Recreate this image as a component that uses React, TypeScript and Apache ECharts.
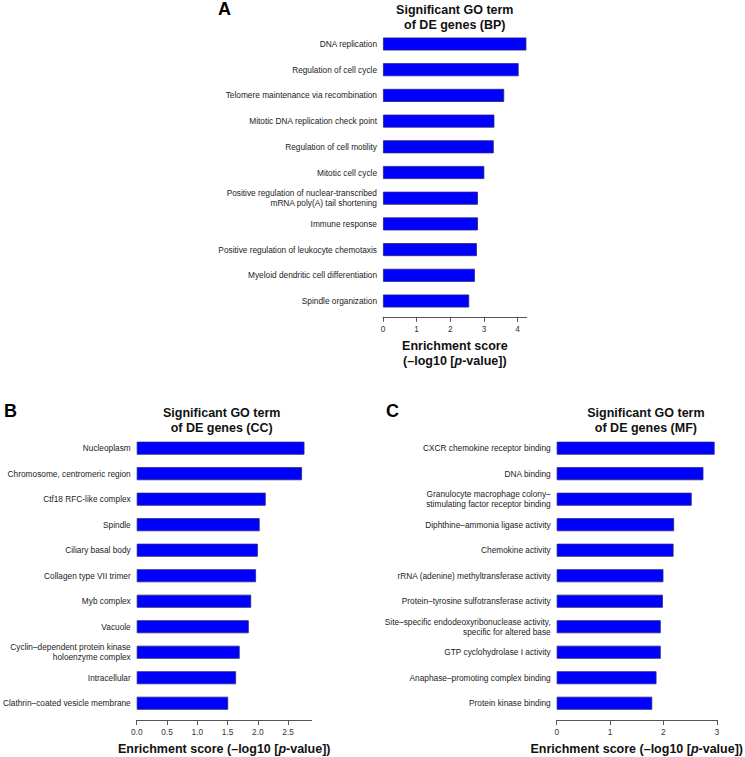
import React, { useEffect, useRef } from "react";
import * as echarts from "echarts";

const bpTerms = [
  "DNA replication",
  "Regulation of cell cycle",
  "Telomere maintenance via recombination",
  "Mitotic DNA replication check point",
  "Regulation of cell motility",
  "Mitotic cell cycle",
  "Positive regulation of nuclear-transcribed\nmRNA poly(A) tail shortening",
  "Immune response",
  "Positive regulation of leukocyte chemotaxis",
  "Myeloid dendritic cell differentiation",
  "Spindle organization",
];
const bpScores = [4.26, 4.03, 3.6, 3.31, 3.29, 3.01, 2.82, 2.82, 2.79, 2.73, 2.56];

const ccTerms = [
  "Nucleoplasm",
  "Chromosome, centromeric region",
  "Ctf18 RFC-like complex",
  "Spindle",
  "Ciliary basal body",
  "Collagen type VII trimer",
  "Myb complex",
  "Vacuole",
  "Cyclin–dependent protein kinase\nholoenzyme complex",
  "Intracellular",
  "Clathrin–coated vesicle membrane",
];
const ccScores = [2.77, 2.73, 2.13, 2.03, 2.0, 1.97, 1.89, 1.85, 1.7, 1.64, 1.51];

const mfTerms = [
  "CXCR chemokine receptor binding",
  "DNA binding",
  "Granulocyte macrophage colony–\nstimulating factor receptor binding",
  "Diphthine–ammonia ligase activity",
  "Chemokine activity",
  "rRNA (adenine) methyltransferase activity",
  "Protein–tyrosine sulfotransferase activity",
  "Site–specific endodeoxyribonuclease activity,\nspecific for altered base",
  "GTP cyclohydrolase I activity",
  "Anaphase–promoting complex binding",
  "Protein kinase binding",
];
const mfScores = [2.96, 2.75, 2.53, 2.2, 2.19, 2.0, 1.99, 1.95, 1.95, 1.87, 1.79];

const bpTicks = [0, 1, 2, 3, 4];
const ccTicks = [0, 0.5, 1, 1.5, 2, 2.5];
const mfTicks = [0, 1, 2, 3];

const panelLetters = ["A", "B", "C"];
const panelTitles = [
  "Significant GO term\nof DE genes (BP)",
  "Significant GO term\nof DE genes (CC)",
  "Significant GO term\nof DE genes (MF)",
];

const FONT = "'Liberation Sans', Arial, Helvetica, sans-serif";

export default function App() {
  const ref = useRef<HTMLDivElement>(null);

  useEffect(() => {
    if (!ref.current) return;
    const chart = echarts.init(ref.current, undefined, { renderer: "svg" });

    const grids = [
      { left: 383, width: 143.7, top: 31.15, height: 282.7 },
      { left: 131.7, width: 180, top: 435.45, height: 282.7 },
      { left: 556.7, width: 178.3, top: 435.45, height: 282.7 },
    ];
    const maxes = [4.27, 2.89, 3];
    const ticks = [bpTicks, ccTicks, mfTicks];
    const terms = [bpTerms, ccTerms, mfTerms];
    const scores = [bpScores, ccScores, mfScores];
    const names = [
      "Enrichment score\n(–log10 [{i|p}-value])",
      "Enrichment score (–log10 [{i|p}-value])",
      "Enrichment score (–log10 [{i|p}-value])",
    ];
    const nameGaps = [22, 21, 21];
    const offsets = [3, 4, 4];
    const formatters = [
      (v: number) => String(v),
      (v: number) => v.toFixed(1),
      (v: number) => String(v),
    ];

    const xAxis = grids.map((_, i) => ({
      type: "value",
      gridIndex: i,
      min: 0,
      max: maxes[i],
      offset: offsets[i],
      axisLine: { show: true, lineStyle: { color: "#555", width: 1 } },
      axisTick: {
        show: true,
        length: 5,
        customValues: ticks[i],
        lineStyle: { color: "#555", width: 1 },
      },
      axisLabel: {
        customValues: ticks[i],
        margin: 8,
        fontSize: 8.3,
        color: "#333",
        fontFamily: FONT,
        formatter: formatters[i],
      },
      splitLine: { show: false },
      name: names[i],
      nameLocation: "middle",
      nameGap: nameGaps[i],
      nameTextStyle: {
        fontFamily: FONT,
        fontSize: 12.5,
        fontWeight: "bold",
        color: "#111",
        lineHeight: 15,
        verticalAlign: "top",
        rich: {
          i: {
            fontFamily: FONT,
            fontSize: 12.5,
            fontWeight: "bold",
            fontStyle: "italic",
            color: "#111",
            lineHeight: 15,
          },
        },
      },
    }));

    const yAxis = grids.map((_, i) => ({
      type: "category",
      gridIndex: i,
      data: terms[i],
      inverse: true,
      axisLine: { show: false },
      axisTick: { show: false },
      axisLabel: {
        interval: 0,
        margin: 6,
        fontSize: 8.3,
        lineHeight: 10,
        color: "#222",
        fontFamily: FONT,
      },
    }));

    const series = grids.map((_, i) => ({
      type: "bar",
      xAxisIndex: i,
      yAxisIndex: i,
      data: scores[i],
      barWidth: 13,
      itemStyle: { color: "#0000ff", borderColor: "#262680", borderWidth: 0.8 },
    }));

    const titleCenters = [454.8, 221.7, 645.9];
    const titleTops = [2, 405.5, 405.5];
    const letterPos = [
      [218, 9],
      [4, 411],
      [386, 411],
    ];

    const graphic: any[] = [];
    for (let i = 0; i < 3; i++) {
      graphic.push({
        type: "text",
        x: titleCenters[i],
        y: titleTops[i],
        style: {
          text: panelTitles[i],
          align: "center",
          verticalAlign: "top",
          fontFamily: FONT,
          fontSize: 12.5,
          fontWeight: "bold",
          lineHeight: 15,
          fill: "#111",
        },
      });
      graphic.push({
        type: "text",
        x: letterPos[i][0],
        y: letterPos[i][1],
        style: {
          text: panelLetters[i],
          align: "left",
          verticalAlign: "middle",
          fontFamily: FONT,
          fontSize: 18,
          fontWeight: "bold",
          fill: "#000",
        },
      });
    }

    chart.setOption({
      animation: false,
      backgroundColor: "#fff",
      grid: grids,
      xAxis,
      yAxis,
      series,
      graphic,
    });

    return () => chart.dispose();
  }, []);

  return (
    <div
      ref={ref}
      style={{ position: "fixed", left: 0, top: 0, width: 745, height: 757 }}
    />
  );
}
